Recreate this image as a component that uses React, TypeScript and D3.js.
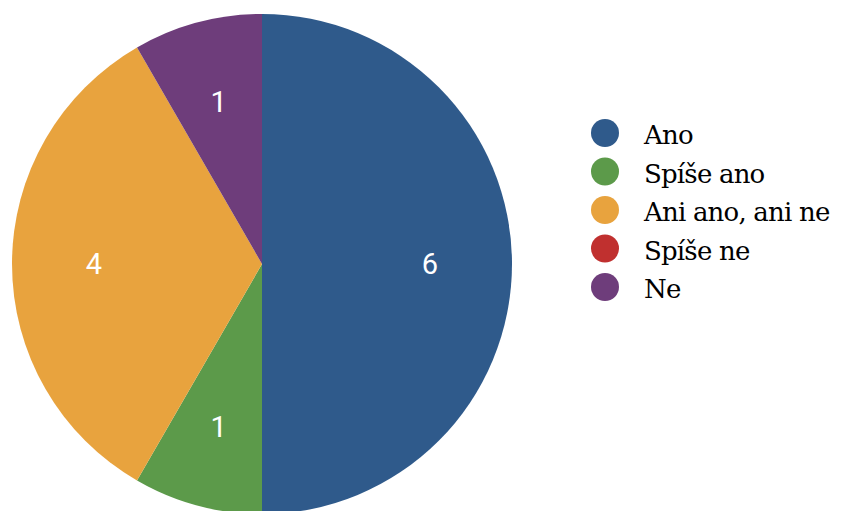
import React from "react";
import * as d3 from "d3";

const categories = ["Ano", "Spíše ano", "Ani ano, ani ne", "Spíše ne", "Ne"];
const values = [6, 1, 4, 0, 1];
const colors = ["#2f5a8b", "#5c9a4a", "#e8a33e", "#c0302f", "#6e3d7b"];

const W = 841;
const H = 511;
const cx = 262;
const cy = 264;
const R = 250;
const labelR = 168;

export default function App() {
  const data = categories.map((c, i) => ({ c, v: values[i], color: colors[i] }));
  const pie = d3.pie<any>().value((d) => d.v).sort(null);
  const arcs = pie(data);
  const arc = d3.arc<any>().innerRadius(0).outerRadius(R);
  const labelArc = d3.arc<any>().innerRadius(labelR).outerRadius(labelR);
  const legendY = d3.scalePoint<string>().domain(categories).range([133, 287]);

  return (
    <svg
      width={W}
      height={H}
      style={{ position: "absolute", left: 0, top: 0, background: "#fff" }}
    >
      <g transform={`translate(${cx},${cy})`}>
        {arcs.map((a, i) =>
          a.data.v > 0 ? <path key={i} d={arc(a) as string} fill={a.data.color} /> : null
        )}
        {arcs.map((a, i) => {
          if (a.data.v <= 0) return null;
          const [x, y] = labelArc.centroid(a);
          return (
            <text
              key={i}
              x={x}
              y={y}
              dy="0.36em"
              textAnchor="middle"
              fill="#fff"
              fontFamily="Roboto"
              fontSize={29}
            >
              {a.data.v}
            </text>
          );
        })}
      </g>
      <g>
        {data.map((d, i) => (
          <g key={i} transform={`translate(0,${legendY(d.c)})`}>
            <circle cx={605} cy={0} r={14} fill={d.color} />
            <text
              x={644}
              y={11}
              fill="#000"
              fontFamily="DejaVu Serif"
              fontSize={26}
              letterSpacing={-0.8}
            >
              {d.c}
            </text>
          </g>
        ))}
      </g>
    </svg>
  );
}
